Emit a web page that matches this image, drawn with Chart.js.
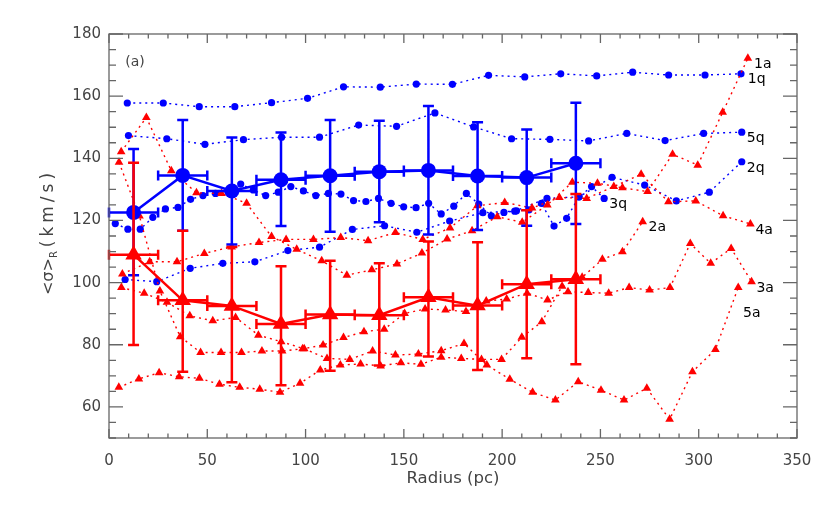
<!DOCTYPE html>
<html>
<head>
<meta charset="utf-8">
<script src="https://cdn.jsdelivr.net/npm/chart.js@4.4.1/dist/chart.umd.min.js"></script>
<style>
  html, body { margin: 0; padding: 0; background: #fff; }
</style>
</head>
<body>
<canvas id="myChart" width="830" height="508"></canvas>
<script>
const ctx = document.getElementById('myChart');

// quiescent galaxies (blue, dotted)
const q1X = [9.3, 27.6, 45.9, 64.0, 82.7, 101.0, 119.3, 138.0, 156.3, 174.7, 193.1, 211.5, 229.8, 248.1, 266.4, 284.7, 303.2, 321.5];
const q1Y = [157.8, 157.8, 156.6, 156.6, 157.9, 159.3, 163.0, 162.9, 163.9, 163.8, 166.7, 166.2, 167.2, 166.5, 167.7, 166.8, 166.8, 167.2];
const q5X = [9.9, 29.4, 48.8, 68.4, 87.8, 107.1, 127.0, 146.3, 165.8, 185.5, 204.8, 224.3, 244.0, 263.4, 282.9, 302.5, 321.9];
const q5Y = [147.3, 146.3, 144.5, 146.0, 146.8, 146.8, 150.7, 150.3, 154.6, 150.1, 146.3, 146.1, 145.6, 148.0, 145.7, 148.0, 148.4];
const q2X = [8.2, 24.3, 41.3, 57.9, 74.2, 91.0, 107.1, 123.8, 140.2, 156.6, 173.3, 190.2, 206.4, 222.8, 239.1, 255.9, 272.5, 288.6, 305.4, 321.9];
const q2Y = [101.0, 100.3, 104.6, 106.2, 106.7, 110.3, 111.4, 117.1, 118.3, 116.2, 119.8, 122.5, 123.0, 127.1, 127.6, 133.9, 131.4, 126.3, 129.1, 138.9];
const q3X = [3.2, 9.6, 15.9, 22.3, 28.7, 35.1, 41.5, 47.8, 54.2, 60.6, 67.0, 73.4, 79.7, 86.1, 92.5, 98.9, 105.2, 111.6, 118.0, 124.4, 130.7, 137.1, 143.5, 149.9, 156.2, 162.6, 169.0, 175.4, 181.8, 188.1, 194.5, 200.9, 207.3, 213.6, 220.0, 226.4, 232.8, 239.1, 245.5, 251.9];
const q3Y = [119.0, 117.2, 117.2, 121.0, 123.7, 124.2, 126.8, 128.0, 128.7, 129.5, 131.7, 129.8, 128.0, 129.1, 130.9, 129.5, 128.0, 128.7, 128.5, 126.4, 126.1, 127.1, 125.5, 124.4, 124.1, 125.5, 122.1, 124.6, 128.7, 125.3, 121.5, 122.6, 123.1, 123.4, 125.5, 118.2, 120.7, 127.6, 130.9, 127.1];

// active galaxies (red, dotted)
const a1X = [6.2, 19.0, 31.7, 44.5, 57.2, 70.0, 82.7, 95.5, 108.2, 121.0, 133.7, 146.5, 159.2, 172.0, 184.7, 197.5, 210.2, 223.0, 235.7, 248.5, 261.2, 274.0, 286.7, 299.5, 312.2, 325.0];
const a1Y = [142.1, 153.1, 136.0, 128.9, 128.7, 125.5, 114.8, 110.7, 107.0, 102.4, 104.1, 106.0, 109.5, 114.0, 116.7, 121.2, 119.4, 125.0, 132.3, 132.0, 130.5, 129.3, 141.3, 137.8, 154.8, 172.2];
const a2X = [5.0, 15.2, 25.5, 35.7, 46.0, 56.2, 66.5, 76.7, 87.0, 97.2, 107.5, 117.7, 128.0, 138.2, 148.5, 158.7, 169.0, 179.2, 189.5, 199.7, 210.0, 220.2, 230.5, 240.7, 251.0, 261.2, 271.5];
const a2Y = [66.3, 69.0, 71.0, 69.7, 69.2, 67.3, 66.3, 65.7, 64.7, 67.6, 71.9, 73.5, 73.8, 73.2, 74.2, 73.7, 76.0, 75.6, 75.3, 75.3, 82.4, 87.4, 98.8, 101.7, 107.5, 109.9, 119.6];
const a3X = [5.1, 15.5, 25.9, 36.2, 46.6, 57.0, 67.4, 77.8, 88.1, 98.5, 108.9, 119.3, 129.7, 140.0, 150.4, 160.8, 171.2, 181.6, 191.9, 202.3, 212.7, 223.1, 233.5, 243.8, 254.2, 264.6, 275.0, 285.4, 295.7, 306.1, 316.5, 326.9];
const a3Y = [138.7, 121.4, 97.3, 82.6, 77.5, 77.5, 77.5, 78.0, 78.0, 78.7, 79.9, 82.3, 84.2, 85.0, 90.1, 91.5, 91.2, 90.7, 94.1, 94.7, 96.6, 94.4, 97.1, 96.8, 96.6, 98.4, 97.6, 98.4, 112.6, 106.2, 111.0, 100.3];
const a4X = [6.8, 20.7, 34.6, 48.5, 62.4, 76.3, 90.1, 104.0, 117.9, 131.8, 145.7, 159.6, 173.5, 187.4, 201.3, 215.2, 229.1, 243.0, 256.8, 270.7, 284.6, 298.5, 312.4, 326.3];
const a4Y = [102.8, 106.7, 106.7, 109.4, 111.5, 112.9, 113.9, 113.9, 114.5, 113.5, 116.1, 113.9, 117.6, 124.7, 125.8, 124.0, 127.4, 127.1, 130.9, 134.9, 126.0, 126.3, 121.5, 118.9];
const a5X = [6.3, 17.9, 29.5, 41.1, 52.8, 64.4, 76.0, 87.6, 99.3, 110.9, 122.5, 134.1, 145.7, 157.4, 169.0, 180.6, 192.2, 203.9, 215.5, 227.1, 238.7, 250.3, 262.0, 273.6, 285.2, 296.8, 308.5, 320.1];
const a5Y = [98.4, 96.6, 93.7, 89.3, 87.7, 88.8, 83.1, 81.0, 78.7, 75.6, 75.3, 78.0, 76.7, 77.0, 78.1, 80.4, 73.5, 68.9, 64.7, 62.2, 68.1, 65.4, 62.2, 66.0, 56.0, 71.3, 78.5, 98.4];

// binned means with errors
const binX = [12.5, 37.5, 62.5, 87.5, 112.5, 137.5, 162.5, 187.5, 212.5, 237.5];
const binHalf = [12.5, 12.5, 12.5, 12.5, 12.5, 12.5, 12.5, 12.5, 12.5, 12.5];
const qMean = [122.6, 134.5, 129.5, 133.1, 134.4, 135.7, 136.1, 134.3, 133.8, 138.4];
const qLow = [102.4, 116.7, 112.3, 118.2, 116.4, 119.4, 115.5, 116.9, 118.3, 118.9];
const qHigh = [143.0, 152.3, 146.7, 148.3, 152.3, 152.1, 156.8, 151.6, 149.3, 157.9];
const aMean = [109.0, 94.3, 92.5, 86.7, 89.7, 89.5, 95.3, 92.6, 99.5, 101.1];
const aLow = [79.9, 71.3, 67.9, 67.0, 71.6, 73.3, 76.2, 71.9, 75.7, 73.7];
const aHigh = [138.6, 116.7, 111.5, 105.3, 107.0, 106.2, 113.2, 113.0, 123.3, 128.5];

// series names written at the end of each curve
const names = ['1a', '1q', '5q', '2q', '3q', '2a', '4a', '3a', '5a'];
const nameX = [332.6, 329.5, 329.0, 329.0, 259.0, 278.9, 333.3, 333.8, 327.0];
const nameY = [170.3, 165.4, 146.3, 136.9, 125.3, 117.9, 116.9, 98.3, 90.2];

const BLUE = 'rgb(0, 0, 255)';
const RED = 'rgb(255, 0, 0)';
const FONT = 'DejaVu Sans';

const pts = (xs, ys) => xs.map((x, i) => ({x: x, y: ys[i]}));

function dotted(xs, ys, color, isRed) {
  return {
    data: pts(xs, ys),
    showLine: true,
    borderColor: color,
    backgroundColor: color,
    borderWidth: 1.4,
    borderDash: [2, 4],
    pointStyle: isRed ? 'triangle' : 'circle',
    pointRadius: isRed ? 5 : 3.6,
    pointBorderWidth: 0,
    pointBackgroundColor: color,
  }
}

const errBars = {
  id: 'errBars',
  beforeDatasetDraw(chart, args) {
    const ds = chart.data.datasets[args.index];
    if (!ds.errLow) return;
    const xs = chart.scales.x, ys = chart.scales.y, c = chart.ctx;
    c.save();
    c.strokeStyle = ds.borderColor;
    c.lineWidth = 2.5;
    c.beginPath();
    ds.data.forEach((p, i) => {
      const px = xs.getPixelForValue(p.x), py = ys.getPixelForValue(p.y);
      const lo = ys.getPixelForValue(ds.errLow[i]), hi = ys.getPixelForValue(ds.errHigh[i]);
      const xl = xs.getPixelForValue(p.x - ds.errX[i]), xr = xs.getPixelForValue(p.x + ds.errX[i]);
      c.moveTo(px, lo); c.lineTo(px, hi);
      c.moveTo(px - 5.5, lo); c.lineTo(px + 5.5, lo);
      c.moveTo(px - 5.5, hi); c.lineTo(px + 5.5, hi);
      c.moveTo(xl, py); c.lineTo(xr, py);
      c.moveTo(xl, py - 5); c.lineTo(xl, py + 5);
      c.moveTo(xr, py - 5); c.lineTo(xr, py + 5);
    });
    c.stroke();
    c.restore();
  }
};

const frame = {
  id: 'frame',
  afterDraw(chart) {
    const {ctx: c, chartArea: a, scales: {x, y}} = chart;
    c.save();
    c.strokeStyle = '#666';
    c.lineWidth = 1.3;
    c.strokeRect(a.left, a.top, a.right - a.left, a.bottom - a.top);
    c.beginPath();
    for (let v = 0; v <= 350; v += 10) {
      const px = x.getPixelForValue(v);
      const len = v % 50 === 0 ? 9 : 4.5;
      c.moveTo(px, a.bottom); c.lineTo(px, a.bottom - len);
      c.moveTo(px, a.top); c.lineTo(px, a.top + len);
    }
    for (let v = 50; v <= 180; v += 5) {
      const py = y.getPixelForValue(v);
      const len = v % 20 === 0 ? 14 : 7;
      c.moveTo(a.left, py); c.lineTo(a.left + len, py);
      c.moveTo(a.right, py); c.lineTo(a.right - len, py);
    }
    c.stroke();

    // y axis title <sigma>_R (km/s), drawn rotated
    c.fillStyle = '#444';
    c.translate(49, 232);
    c.rotate(-Math.PI / 2);
    c.textBaseline = 'middle';
    c.font = '16px ' + FONT;
    const t1 = '<σ>';
    const w1 = c.measureText(t1).width;
    c.font = '10px ' + FONT;
    const w2 = c.measureText('R').width + 4;
    c.font = '17px ' + FONT;
    c.letterSpacing = '4px';
    const t3 = '(km/s)';
    const w3 = c.measureText(t3).width;
    c.letterSpacing = '0px';
    let sx = -(w1 + w2 + w3) / 2;
    c.font = '16px ' + FONT;
    c.fillText(t1, sx, 0);
    c.font = '10px ' + FONT;
    c.fillText('R', sx + w1, 5);
    c.font = '17px ' + FONT;
    c.letterSpacing = '4px';
    c.fillText(t3, sx + w1 + w2, 0);
    c.letterSpacing = '0px';
    c.setTransform(1, 0, 0, 1, 0, 0);

    // panel tag and curve names
    c.font = '14px ' + FONT;
    c.textAlign = 'center';
    c.fillStyle = '#444';
    c.fillText('(a)', x.getPixelForValue(13.2), y.getPixelForValue(171.0));
    c.fillStyle = '#000';
    names.forEach((n, i) => {
      c.fillText(n, x.getPixelForValue(nameX[i]), y.getPixelForValue(nameY[i]));
    });
    c.restore();
  }
};

new Chart(ctx, {
  type: 'scatter',
  data: {
    datasets: [
      Object.assign(dotted(binX, aMean, RED, true), {
        borderDash: [], borderWidth: 2.5, pointRadius: 9.5,
        errLow: aLow, errHigh: aHigh, errX: binHalf
      }),
      Object.assign(dotted(binX, qMean, BLUE, false), {
        borderDash: [], borderWidth: 2.5, pointRadius: 7.5,
        errLow: qLow, errHigh: qHigh, errX: binHalf
      }),
      dotted(a1X, a1Y, RED, true),
      dotted(a2X, a2Y, RED, true),
      dotted(a3X, a3Y, RED, true),
      dotted(a4X, a4Y, RED, true),
      dotted(a5X, a5Y, RED, true),
      dotted(q1X, q1Y, BLUE, false),
      dotted(q5X, q5Y, BLUE, false),
      dotted(q2X, q2Y, BLUE, false),
      dotted(q3X, q3Y, BLUE, false),
    ]
  },
  options: {
    responsive: false,
    animation: false,
    devicePixelRatio: 1,
    layout: {
      padding: {left: 0, top: 34, right: 33, bottom: 0}
    },
    plugins: {
      legend: {display: false},
      tooltip: {enabled: false}
    },
    scales: {
      x: {
        type: 'linear',
        min: 0,
        max: 350,
        afterFit(s) { s.height = 70; },
        grid: {display: false, drawTicks: false},
        border: {display: false},
        ticks: {stepSize: 50, padding: 14, color: '#444', font: {family: FONT, size: 15}},
        title: {display: true, text: 'Radius (pc)', color: '#444', padding: {top: 0, bottom: 19}, font: {family: FONT, size: 16.5}}
      },
      y: {
        min: 50,
        max: 180,
        afterFit(s) { s.width = 109; },
        grid: {display: false, drawTicks: false},
        border: {display: false},
        ticks: {stepSize: 20, includeBounds: false, padding: 8, color: '#444', font: {family: FONT, size: 15}}
      }
    }
  },
  plugins: [errBars, frame]
});
</script>
</body>
</html>
